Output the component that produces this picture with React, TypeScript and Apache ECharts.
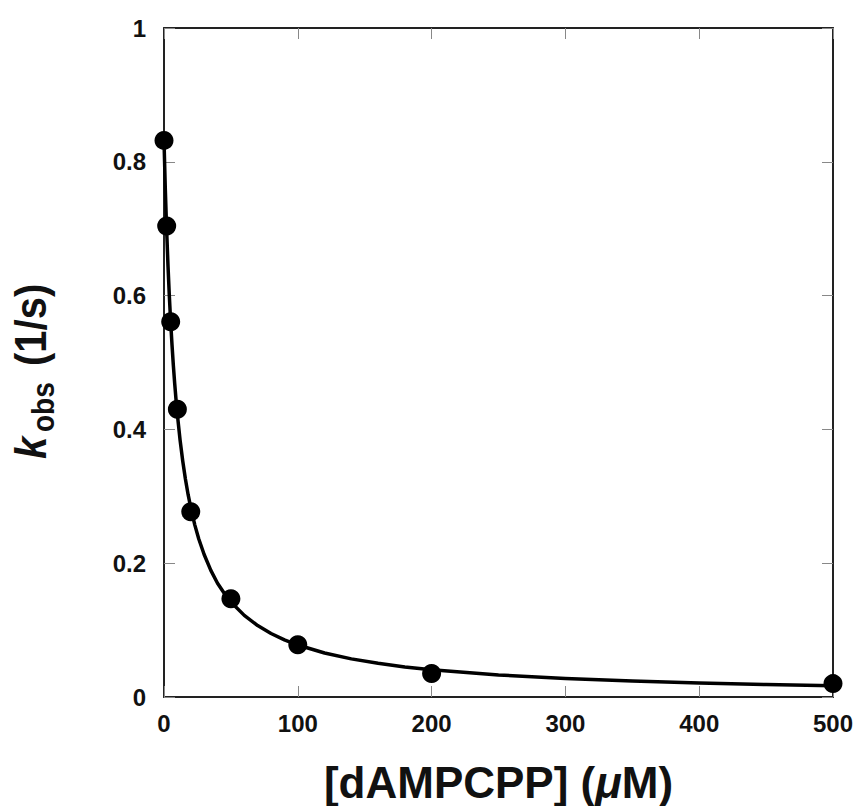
import React, { useEffect, useRef } from "react";
import * as echarts from "echarts";

// Measured data points: [dAMPCPP] (µM) vs k_obs (1/s)
const concentrations = [0, 2, 5, 10, 20, 50, 100, 200, 500];
const kobsValues = [0.832, 0.704, 0.561, 0.43, 0.277, 0.147, 0.078, 0.035, 0.02];

// Fitted curve at these concentrations
const fitX = [0, 1, 2, 3, 4, 5, 6, 7, 8, 9, 10, 12, 14, 16, 18, 20, 23, 26, 30, 35, 40, 45, 50, 60, 70, 80, 90, 100, 120, 140, 160, 180, 200, 250, 300, 350, 400, 450, 500];
const fitY = [0.832, 0.758, 0.697, 0.644, 0.599, 0.56, 0.526, 0.4954, 0.4683, 0.444, 0.422, 0.3843, 0.3527, 0.3258, 0.3028, 0.283, 0.2573, 0.2361, 0.213, 0.1892, 0.17, 0.155, 0.142, 0.122, 0.1067, 0.0949, 0.0854, 0.0777, 0.0658, 0.057, 0.0503, 0.045, 0.0408, 0.0329, 0.0276, 0.0238, 0.0209, 0.0186, 0.0168];

const xTicks = { min: 0, max: 500, interval: 100 };
const yTicks = { min: 0, max: 1, interval: 0.2 };

const FONT = "'Liberation Sans', Arial, Helvetica, sans-serif";

export default function App() {
  const ref = useRef<HTMLDivElement>(null);

  useEffect(() => {
    if (!ref.current) return;
    const chart = echarts.init(ref.current, null, { renderer: "svg" });

    const points = concentrations.map((c, i) => [c, kobsValues[i]]);
    const curve = fitX.map((c, i) => [c, fitY[i]]);

    const axisLine = { show: true, onZero: false, lineStyle: { color: "#222", width: 2 } };
    const axisTick = { show: true, inside: true, length: 11, lineStyle: { color: "#888", width: 1 } };
    const label = { color: "#111", fontFamily: FONT, fontWeight: "bold" as const, fontSize: 24 };

    const titleText = (text: string, x: number, y: number, size: number, italic: boolean) => ({
      type: "text",
      x,
      y,
      style: {
        text,
        fontFamily: FONT,
        fontWeight: "bold",
        fontStyle: italic ? "italic" : "normal",
        fontSize: size,
        fill: "#111",
        align: "left",
        verticalAlign: "middle",
      },
    });

    chart.setOption({
      animation: false,
      backgroundColor: "#ffffff",
      grid: { left: 164, right: 26, top: 28, bottom: 109, containLabel: false, outerBoundsMode: "none" },
      graphic: [
        {
          type: "group",
          x: 46,
          y: 459,
          rotation: Math.PI / 2,
          scaleY: 1.1,
          children: [
            titleText("k", 0, -14, 40, true),
            titleText("obs", 27, -3, 28, false),
            titleText("(1/s)", 93, -14, 40, false),
          ],
        },
      ],
      xAxis: [
        {
          type: "value",
          ...xTicks,
          position: "bottom",
          axisLine,
          axisTick,
          splitLine: { show: false },
          axisLabel: { ...label, margin: 14 },
          name: "[dAMPCPP] ({it|μ}M)",
          nameLocation: "middle",
          nameGap: 68,
          nameTextStyle: {
            color: "#111",
            fontFamily: FONT,
            fontWeight: "bold",
            fontSize: 44,
            lineHeight: 34,
            rich: {
              it: { fontFamily: FONT, fontWeight: "bold", fontStyle: "italic", fontSize: 44, lineHeight: 34, color: "#111" },
            },
          },
        },
        {
          type: "value",
          ...xTicks,
          position: "top",
          axisLine,
          axisTick,
          splitLine: { show: false },
          axisLabel: { show: false },
        },
      ],
      yAxis: [
        {
          type: "value",
          ...yTicks,
          position: "left",
          axisLine,
          axisTick,
          splitLine: { show: false },
          axisLabel: { ...label, margin: 18 },
        },
        {
          type: "value",
          ...yTicks,
          position: "right",
          axisLine,
          axisTick,
          splitLine: { show: false },
          axisLabel: { show: false },
        },
      ],
      series: [
        {
          type: "line",
          data: curve,
          smooth: false,
          showSymbol: false,
          symbol: "none",
          lineStyle: { color: "#000", width: 3.5, cap: "round", join: "round" },
          z: 2,
        },
        {
          type: "scatter",
          data: points,
          symbol: "circle",
          symbolSize: 19,
          itemStyle: { color: "#000", opacity: 1 },
          z: 3,
        },
      ],
    });

    return () => chart.dispose();
  }, []);

  return (
    <div
      ref={ref}
      style={{ position: "fixed", left: 0, top: 0, width: 859, height: 806, background: "#fff" }}
    />
  );
}
